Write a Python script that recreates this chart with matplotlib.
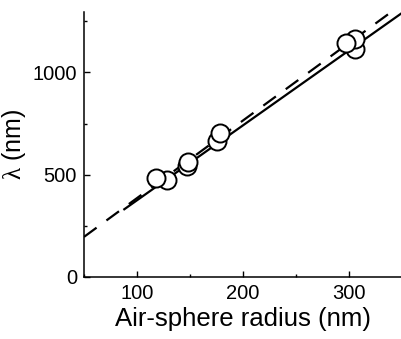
import matplotlib
matplotlib.use("Agg")
import matplotlib.pyplot as plt
from matplotlib.ticker import MultipleLocator

# air-sphere radius (nm) and stop-band wavelength (nm), in drawing order
radius = [128, 118, 147, 148, 175, 178, 306, 306, 297]
wavelength = [476, 484, 541, 562, 663, 705, 1113, 1165, 1142]

# fitted line (solid) and model line (dashed), end points
fit_r = [88, 352]
fit_lam = [331, 1298]
model_r = [50, 340]
model_lam = [196, 1296]

plt.rcParams['font.family'] = ['Liberation Sans', 'DejaVu Sans']
plt.rcParams['mathtext.fontset'] = 'custom'
plt.rcParams['mathtext.rm'] = 'Liberation Serif'
plt.rcParams['mathtext.it'] = 'Liberation Serif:italic'

fig = plt.figure(figsize=(4.02, 3.39), dpi=100)
ax = fig.add_axes([0.209, 0.183, 0.791, 0.782])

ax.plot(model_r, model_lam, color='black', lw=1.6, ls=(0, (7, 5.5)), zorder=2)
ax.plot(fit_r, fit_lam, color='black', lw=1.6, zorder=2)
for r, lam in zip(radius, wavelength):
    ax.plot(r, lam, 'o', ms=13, mfc='white', mec='black', mew=1.4, zorder=3)

ax.set_xlim(50, 350)
ax.set_ylim(0, 1296)
ax.xaxis.set_major_locator(MultipleLocator(100))
ax.xaxis.set_minor_locator(MultipleLocator(50))
ax.yaxis.set_major_locator(MultipleLocator(500))
ax.yaxis.set_minor_locator(MultipleLocator(250))
ax.tick_params(which='both', direction='in', labelsize=14.5, width=1.0, pad=5)
ax.tick_params(which='major', length=4)
ax.tick_params(which='minor', length=2.5)

for s in ['top', 'right']:
    ax.spines[s].set_visible(False)
for s in ['left', 'bottom']:
    ax.spines[s].set_linewidth(1.1)

ax.set_xlabel('Air-sphere radius (nm)', fontsize=18.5, labelpad=3)
ax.set_ylabel(r'$\mathrm{\lambda}$ (nm)', fontsize=18, labelpad=3)

fig.savefig('out.png', dpi=100)
